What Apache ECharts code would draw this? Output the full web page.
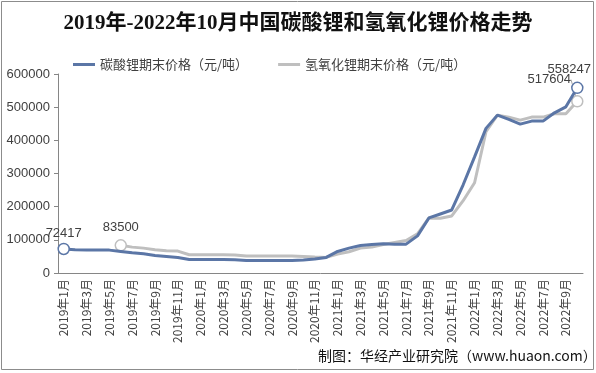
<!DOCTYPE html>
<html>
<head>
<meta charset="utf-8">
<script src="https://cdn.jsdelivr.net/npm/echarts@6/dist/echarts.min.js"></script>
<style>
html,body{margin:0;padding:0;background:#fff;}
#chart{width:596px;height:373px;}
</style>
</head>
<body>
<div id="chart"></div>
<script>
var months = [];
(function(){
  for (var y = 2019; y <= 2022; y++) {
    for (var m = 1; m <= 12; m++) {
      if (y === 2022 && m > 10) break;
      months.push(y + '年' + m + '月');
    }
  }
})();

// 碳酸锂期末价格（元/吨）
var carbonate = [
  72417, 70000, 69000, 69000, 69000, 65000, 61000, 58000, 53000, 50000, 47000, 41000,
  41000, 41000, 41000, 40000, 38000, 38000, 38000, 38000, 38000, 39000, 42000, 47000,
  65000, 75000, 83000, 86000, 88000, 87000, 87000, 112000, 166000, 178000, 190000, 266000,
  350000, 436000, 476000, 463000, 449000, 458000, 458000, 483000, 501000, 558247
];
// 氢氧化锂期末价格（元/吨）
var hydroxide = [
  null, null, null, null, null, 83500, 78000, 75000, 70000, 67000, 66000, 55000,
  55000, 55000, 55000, 54000, 51000, 51000, 51000, 51000, 51000, 50000, 48000, 47000,
  57000, 64000, 75000, 78000, 86000, 92000, 98000, 118000, 166000, 165000, 172000, 218000,
  272000, 426000, 476000, 470000, 461000, 470000, 470000, 480000, 480000, 517604
];
var yTicks = [0, 100000, 200000, 300000, 400000, 500000, 600000];

var blue = '#5B76A6';
var gray = '#BFBFBF';

function build(arr, color, marks) {
  return arr.map(function (v, i) {
    if (v === null) return '-';
    if (marks[i]) {
      var item = {
        value: v,
        symbol: 'circle',
        symbolSize: 11,
        itemStyle: { color: '#fff', borderColor: color, borderWidth: 1.5 },
        label: Object.assign({ show: true, color: '#404040', fontSize: 13, fontFamily: 'Liberation Sans, Arial, sans-serif' }, marks[i].label || {})
      };
      if (marks[i].labelLine) item.labelLine = marks[i].labelLine;
      return item;
    }
    return v;
  });
}

var cMarks = {};
cMarks[0] = { label: { position: 'top', offset: [0, 2] } };
cMarks[45] = { label: { position: 'top', offset: [-8, -1] } };
var hMarks = {};
hMarks[5] = { label: { position: 'top', offset: [0, -2] }, labelLine: { show: false } };
hMarks[45] = { label: { position: 'top' } };

var chart = echarts.init(document.getElementById('chart'), null, { renderer: 'canvas' });
chart.setOption({
  animation: false,
  backgroundColor: '#fff',
  title: {
    text: '2019年-2022年10月中国碳酸锂和氢氧化锂价格走势',
    left: 'center',
    top: 8,
    textStyle: { fontFamily: '"Liberation Serif", "Noto Sans CJK SC"', fontWeight: 'bold', fontSize: 21, color: '#111' }
  },
  legend: {
    top: 53,
    left: 68,
    itemGap: 30,
    itemWidth: 22,
    itemHeight: 3,
    icon: 'rect',
    textStyle: { fontFamily: 'Noto Sans CJK SC', fontSize: 13, color: '#404040' },
    data: ['碳酸锂期末价格（元/吨）', '氢氧化锂期末价格（元/吨）']
  },
  grid: { left: 58, right: 13, top: 74, bottom: 100 },
  xAxis: {
    type: 'category',
    data: months,
    boundaryGap: true,
    axisLine: { lineStyle: { color: '#868686' } },
    axisTick: { interval: 1, length: 5, lineStyle: { color: '#868686' } },
    axisLabel: { interval: 1, rotate: 90, fontSize: 12, color: '#404040', fontFamily: 'Noto Sans CJK SC', margin: 6 }
  },
  yAxis: {
    type: 'value',
    min: yTicks[0],
    max: yTicks[yTicks.length - 1],
    interval: 100000,
    axisLine: { show: true, lineStyle: { color: '#868686' } },
    axisTick: { show: true, length: 4, lineStyle: { color: '#868686' } },
    splitLine: { show: false },
    axisLabel: { fontSize: 13, color: '#404040', fontFamily: 'Liberation Sans, Arial, sans-serif', margin: 8, formatter: function (v) { return String(v); } }
  },
  series: [
    {
      name: '碳酸锂期末价格（元/吨）',
      type: 'line',
      symbol: 'none',
      showSymbol: true,
      showAllSymbol: true,
      data: build(carbonate, blue, cMarks),
      lineStyle: { color: blue, width: 3 },
      itemStyle: { color: blue },
      z: 3
    },
    {
      name: '氢氧化锂期末价格（元/吨）',
      type: 'line',
      symbol: 'none',
      showSymbol: true,
      showAllSymbol: true,
      data: build(hydroxide, gray, hMarks),
      lineStyle: { color: gray, width: 3 },
      itemStyle: { color: gray },
      labelLine: { show: true, lineStyle: { color: '#a6a6a6', width: 1 } },
      labelLayout: function (params) {
        if (params.dataIndex === hydroxide.length - 1) {
          return { dx: -28, dy: -4 };
        }
        return {};
      },
      z: 2
    }
  ],
  graphic: [
    { type: 'rect', shape: { x: 1.5, y: 1.5, width: 592, height: 368 }, style: { fill: null, stroke: '#8c8c8c', lineWidth: 1 }, silent: true, z: -1 },
    { type: 'text', left: 318, top: 349, style: { text: '制图：华经产业研究院（www.huaon.com）', font: '14px "Noto Sans CJK SC"', fill: '#111' }, z: 10 }
  ]
});
</script>
</body>
</html>
